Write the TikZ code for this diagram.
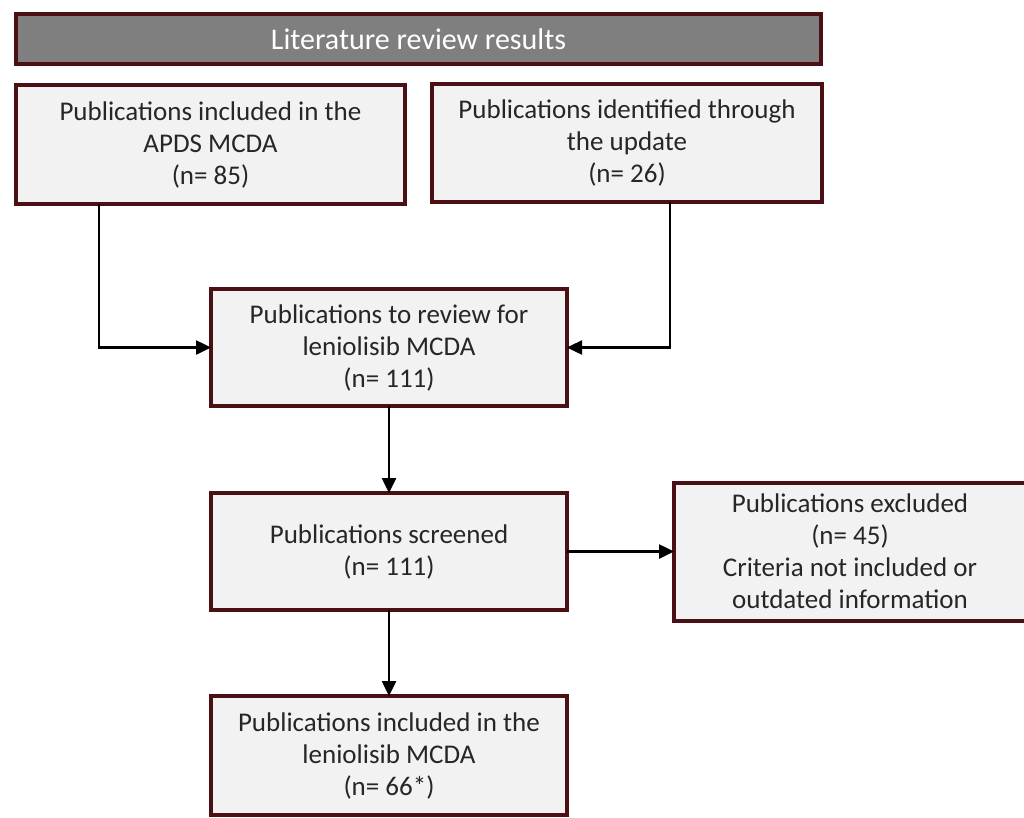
\documentclass[tikz,border=0pt]{standalone}
\usepackage{fontspec}
\setmainfont{Carlito}
\usepackage{tikz}
\usetikzlibrary{positioning, arrows.meta}

\definecolor{boxline}{HTML}{4A1014}
\definecolor{boxfill}{HTML}{F2F2F2}
\definecolor{headfill}{HTML}{7F7F7F}
\definecolor{boxtext}{HTML}{262626}

\begin{document}
\begin{tikzpicture}[x=1pt,y=-1pt,
  pubbox/.style={draw=boxline,line width=4pt,fill=boxfill,text=boxtext,align=center,
    inner sep=0pt,outer sep=0pt,font=\fontsize{27}{32}\selectfont},
  headbox/.style={pubbox,fill=headfill,text=white,font=\fontsize{30}{34}\selectfont},
  flow/.style={draw=black,line width=2.5pt,-{Triangle[length=15pt,width=14pt]}}]
\useasboundingbox[fill=white] (0,0) rectangle (1024,817);

\node at(418.5,39)[headbox,minimum width=805pt,minimum height=50pt](head){Literature review results};
\node at(210.5,144.5)[pubbox,minimum width=389pt,minimum height=119pt](apds){Publications included in the\\APDS MCDA\\(n= 85)};
\node at(627,143)[pubbox,minimum width=390pt,minimum height=118pt](update){Publications identified through\\the update\\(n= 26)};
\node at(389,347.5)[pubbox,minimum width=356pt,minimum height=117pt](review){Publications to review for\\leniolisib MCDA\\(n= 111)};
\node at(389,551.5)[pubbox,minimum width=356pt,minimum height=117pt](screened){Publications screened\\(n= 111)};
\node at(850,551.5)[pubbox,minimum width=352pt,minimum height=138pt](excluded){Publications excluded\\(n= 45)\\Criteria not included or\\outdated information};
\node at(389,755.5)[pubbox,minimum width=356pt,minimum height=119pt](included){Publications included in the\\leniolisib MCDA\\(n= 66*)};

\draw[flow] ([xshift=-111.5pt]apds.south) |- (review.west);
\draw[flow] ([xshift=43pt]update.south) |- (review.east);
\draw[flow] (review) -- (screened);
\draw[flow] (screened) -- (excluded);
\draw[flow] (screened) -- (included);
\end{tikzpicture}
\end{document}
